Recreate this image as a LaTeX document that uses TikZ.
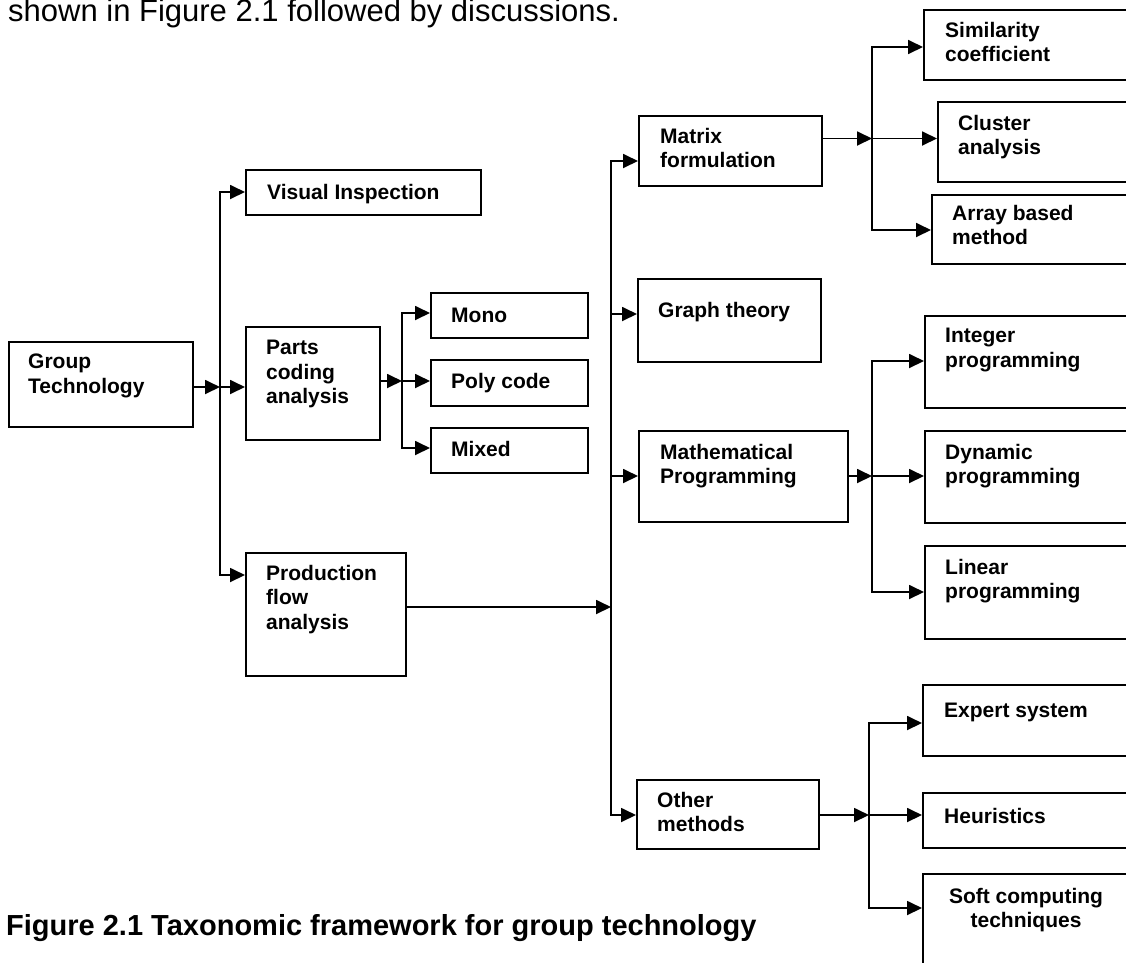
\documentclass[tikz,border=0pt]{standalone}
\usepackage{fontspec}
\setmainfont{Liberation Sans}
\usetikzlibrary{arrows.meta}
\begin{document}
\begin{tikzpicture}[x=1pt,y=-1pt,
  box/.style={draw, line width=1.8pt, rectangle, anchor=north west, inner sep=0pt},
  lbl/.style={anchor=north west, inner sep=0pt, align=left, yshift=17.22pt,
    font=\fontsize{21}{24.6}\selectfont\bfseries, execute at begin node=\strut},
  link/.style={line width=1.8pt},
  arr/.style={link, -{Triangle[length=15pt,width=14pt]}},
]
\useasboundingbox (0,0) rectangle (1126,962);

% running text above and the caption below
\node[anchor=base west, inner sep=0pt, font=\fontsize{31}{36}\selectfont] (intro) at (8,21)
  {shown in Figure 2.1 followed by discussions.};
\node[anchor=base west, inner sep=0pt, font=\fontsize{29}{34}\selectfont\bfseries] (cap) at (6,935)
  {Figure 2.1 Taxonomic framework for group technology};

% ---------- boxes ----------
\node[box, minimum width=184pt, minimum height=85pt] (gt) at (8,341) {};
\node[box, minimum width=235pt, minimum height=45pt] (vi) at (245,169) {};
\node[box, minimum width=134pt, minimum height=113pt] (pca) at (245,326) {};
\node[box, minimum width=160pt, minimum height=123pt] (pfa) at (245,552) {};
\node[box, minimum width=157pt, minimum height=45pt] (mono) at (430,292) {};
\node[box, minimum width=157pt, minimum height=46pt] (poly) at (430,359) {};
\node[box, minimum width=157pt, minimum height=45pt] (mixed) at (430,427) {};
\node[box, minimum width=183pt, minimum height=70pt] (mf) at (638,115) {};
\node[box, minimum width=183pt, minimum height=83pt] (gth) at (637,278) {};
\node[box, minimum width=209pt, minimum height=91pt] (mp) at (638,430) {};
\node[box, minimum width=182pt, minimum height=69pt] (oth) at (636,779) {};
\node[box, minimum width=217pt, minimum height=70pt] (sim) at (923,9) {};
\node[box, minimum width=203pt, minimum height=80pt] (clu) at (937,101) {};
\node[box, minimum width=209pt, minimum height=69pt] (abm) at (931,194) {};
\node[box, minimum width=216pt, minimum height=92pt] (intp) at (924,315) {};
\node[box, minimum width=216pt, minimum height=92pt] (dyn) at (924,430) {};
\node[box, minimum width=216pt, minimum height=93pt] (lin) at (924,545) {};
\node[box, minimum width=218pt, minimum height=71pt] (exs) at (922,684) {};
\node[box, minimum width=218pt, minimum height=55pt] (heu) at (922,792) {};
\node[box, minimum width=218pt, minimum height=107pt] (soft) at (922,873) {};

% ---------- box texts ----------
\node[lbl] (tgt) at (28,371) {Group\\Technology};
\node[lbl] (tvi) at (267,199) {Visual Inspection};
\node[lbl] (tpca) at (266,357) {Parts\\coding\\analysis};
\node[lbl] (tpfa) at (266,582) {Production\\flow\\analysis};
\node[lbl] (tmono) at (451,322) {Mono};
\node[lbl] (tpoly) at (451,388) {Poly code};
\node[lbl] (tmixed) at (451,456) {Mixed};
\node[lbl] (tmf) at (660,145) {Matrix\\formulation};
\node[lbl] (tgth) at (658,317) {Graph theory};
\node[lbl] (tmp) at (660,461) {Mathematical\\Programming};
\node[lbl] (toth) at (657,809) {Other\\methods};
\node[lbl] (tsim) at (945,39) {Similarity\\coefficient};
\node[lbl] (tclu) at (958,132) {Cluster\\analysis};
\node[lbl] (tabm) at (952,222) {Array based\\method};
\node[lbl] (tintp) at (945,345) {Integer\\programming};
\node[lbl] (tdyn) at (945,461) {Dynamic\\programming};
\node[lbl] (tlin) at (945,576) {Linear\\programming};
\node[lbl] (texs) at (944,717) {Expert system};
\node[lbl] (theu) at (944,823) {Heuristics};
\node[lbl, anchor=north, align=center] (tsoft) at (1026,905) {Soft computing\\techniques};

% ---------- connectors ----------
% group technology -> first split
\coordinate (j0) at (220,387);
\coordinate (s1t) at (220,192);
\coordinate (s1b) at (220,575);
\draw[arr] (j0 -| gt.east) -- (j0);
\draw[arr] (s1b) -- (s1t) -- (s1t -| vi.west);
\draw[arr] (s1t) -- (s1b) -- (s1b -| pfa.west);
\draw[arr] (j0) -- (j0 -| pca.west);

% parts coding analysis -> code types
\coordinate (j1) at (402,381);
\coordinate (s2t) at (402,313);
\coordinate (s2b) at (402,448);
\draw[arr] (j1 -| pca.east) -- (j1);
\draw[arr] (s2b) -- (s2t) -- (s2t -| mono.west);
\draw[arr] (s2t) -- (s2b) -- (s2b -| mixed.west);
\draw[arr] (j1) -- (j1 -| poly.west);

% production flow analysis -> method families
\coordinate (j2) at (611,607);
\coordinate (s3t) at (611,161);
\coordinate (s3b) at (611,815);
\coordinate (g1) at (611,314);
\coordinate (g2) at (611,476);
\draw[arr] (j2 -| pfa.east) -- (j2);
\draw[arr] (s3b) -- (s3t) -- (s3t -| mf.west);
\draw[arr] (s3t) -- (s3b) -- (s3b -| oth.west);
\draw[arr] (g1) -- (g1 -| gth.west);
\draw[arr] (g2) -- (g2 -| mp.west);

% matrix formulation -> techniques
\coordinate (j3) at (872,138.5);
\coordinate (s4t) at (872,47);
\coordinate (s4b) at (872,230);
\draw[arr] (j3 -| mf.east) -- (j3);
\draw[arr] (s4b) -- (s4t) -- (s4t -| sim.west);
\draw[arr] (s4t) -- (s4b) -- (s4b -| abm.west);
\draw[arr] (j3) -- (j3 -| clu.west);

% mathematical programming -> techniques
\coordinate (j4) at (872,476);
\coordinate (s5t) at (872,361);
\coordinate (s5b) at (872,592);
\draw[arr] (j4 -| mp.east) -- (j4);
\draw[arr] (s5b) -- (s5t) -- (s5t -| intp.west);
\draw[arr] (s5t) -- (s5b) -- (s5b -| lin.west);
\draw[arr] (j4) -- (j4 -| dyn.west);

% other methods -> techniques
\coordinate (j5) at (869,815);
\coordinate (s6t) at (869,723);
\coordinate (s6b) at (869,908);
\draw[arr] (j5 -| oth.east) -- (j5);
\draw[arr] (s6b) -- (s6t) -- (s6t -| exs.west);
\draw[arr] (s6t) -- (s6b) -- (s6b -| soft.west);
\draw[arr] (j5) -- (j5 -| heu.west);
\end{tikzpicture}
\end{document}
